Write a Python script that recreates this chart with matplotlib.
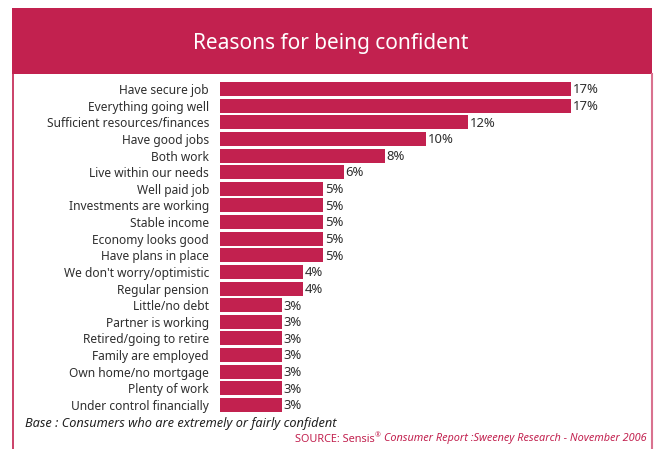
import matplotlib
matplotlib.use('Agg')
import matplotlib.pyplot as plt
from matplotlib.patches import Rectangle
from matplotlib.lines import Line2D

reasons = ['Have secure job', 'Everything going well', 'Sufficient resources/finances',
           'Have good jobs', 'Both work', 'Live within our needs', 'Well paid job',
           'Investments are working', 'Stable income', 'Economy looks good',
           'Have plans in place', "We don't worry/optimistic", 'Regular pension',
           'Little/no debt', 'Partner is working', 'Retired/going to retire',
           'Family are employed', 'Own home/no mortgage', 'Plenty of work',
           'Under control financially']
pct = [17, 17, 12, 10, 8, 6, 5, 5, 5, 5, 5, 4, 4, 3, 3, 3, 3, 3, 3, 3]

title = 'Reasons for being confident'
base_note = 'Base : Consumers who are extremely or fairly confident'

crimson = '#C2214F'
txt = '#2e2e2e'
plt.rcParams['font.family'] = ['Noto Sans', 'DejaVu Sans']

W, H = 658, 449
fig = plt.figure(figsize=(W / 100, H / 100), dpi=100)

# frame + banner (pixel coords converted to figure fraction)
def fx(px): return px / W
def fy(py): return 1 - py / H

fig.patches.append(Rectangle((fx(12), fy(74)), fx(652) - fx(12), fy(8) - fy(74),
                             transform=fig.transFigure, facecolor=crimson, edgecolor='none'))
fig.lines.append(Line2D([fx(13), fx(13)], [fy(74), 0], transform=fig.transFigure,
                        color=crimson, lw=1.2))
fig.lines.append(Line2D([fx(651.5), fx(651.5)], [fy(74), 0], transform=fig.transFigure,
                        color='#D9728F', lw=1.5))
fig.text(fx(331), fy(43), title, color='white', fontsize=15, weight='semibold',
         ha='center', va='center')

# bar axes
row = 16.63
top = 89 - row / 2
ax = fig.add_axes([fx(220), fy(top + 20 * row), fx(640) - fx(220), 20 * row / H])
y = list(range(len(pct)))
ax.barh(y, pct, height=0.84, color=crimson)
ax.set_xlim(0, 420 / 20.65)
ax.set_ylim(len(pct) - 0.5, -0.5)
ax.set_yticks(y)
ax.set_yticklabels(reasons, fontsize=8.6, color=txt)
ax.tick_params(axis='y', length=0, pad=8)
ax.set_xticks([])
for s in ax.spines.values():
    s.set_visible(False)
for i, v in enumerate(pct):
    ax.text(v + 0.08, i + 0.05, f'{v}%', va='center', ha='left', fontsize=9.4, color=txt)

fig.text(fx(25), fy(424), base_note, fontsize=9.2, style='italic', color='#222222',
         va='center', ha='left')

src_y = fy(439)
t2 = fig.text(fx(647), src_y, 'Consumer Report :Sweeney Research - November 2006',
              fontsize=7.85, style='italic', color=crimson, ha='right', va='center')
fig.canvas.draw()
bb = t2.get_window_extent()
t1 = fig.text(bb.x0 / W - fx(10), src_y, 'SOURCE: Sensis', fontsize=7.85, color=crimson,
              ha='right', va='center')
fig.text(bb.x0 / W - fx(9.5), src_y + 0.006, '®', fontsize=5, color=crimson,
         ha='left', va='center')

fig.savefig('out.png', dpi=100)
